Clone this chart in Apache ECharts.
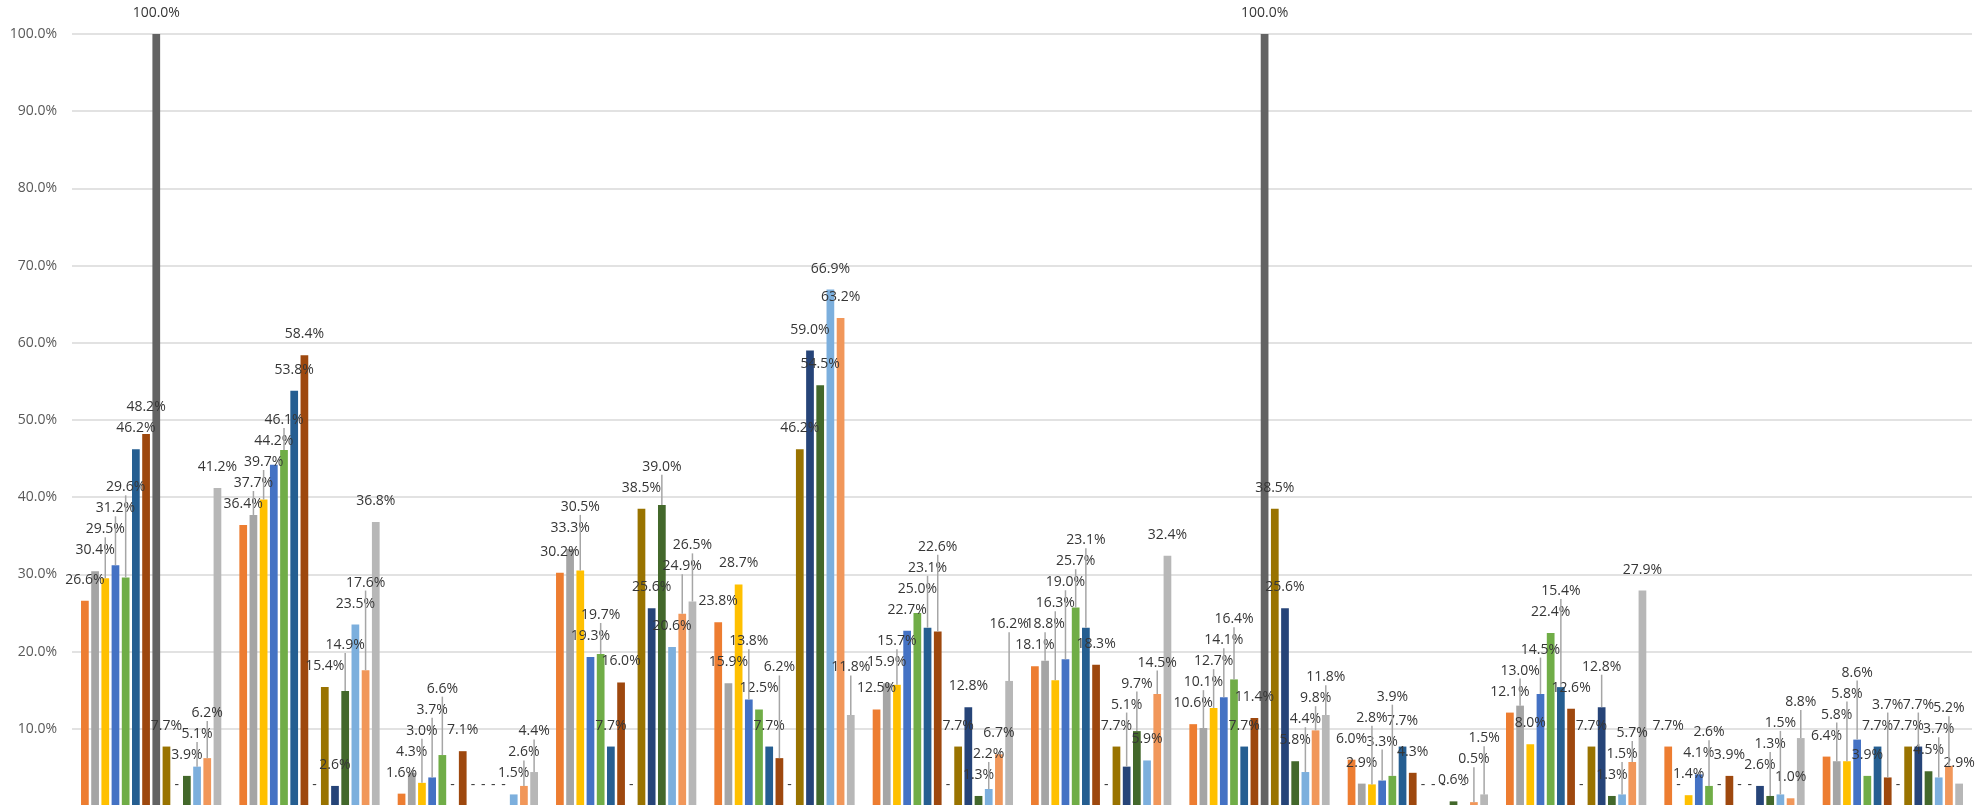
<!DOCTYPE html>
<html>
<head>
<meta charset="utf-8">
<title>Clustered columns</title>
<script src="https://cdn.jsdelivr.net/npm/echarts@6.0.0/dist/echarts.min.js"></script>
<style>
  html, body { margin: 0; padding: 0; background: #ffffff; }
  #chart { width: 1981px; height: 805px; }
</style>
</head>
<body>
<div id="chart"></div>
<script>
// Twelve categories, fourteen series (values in percent)
const categories = ['G1', 'G2', 'G3', 'G4', 'G5', 'G6', 'G7', 'G8', 'G9', 'G10', 'G11', 'G12'];
const seriesNames = ['S1', 'S2', 'S3', 'S4', 'S5', 'S6', 'S7', 'S8', 'S9', 'S10', 'S11', 'S12', 'S13', 'S14'];

const s1  = [26.6, 36.4, 1.6, 30.2, 23.8, 12.5, 18.1, 10.6, 6.0, 12.1, 7.7, 6.4];
const s2  = [30.4, 37.7, 4.3, 33.3, 15.9, 15.9, 18.8, 10.1, 2.9, 13.0, 0, 5.8];
const s3  = [29.5, 39.7, 3.0, 30.5, 28.7, 15.7, 16.3, 12.7, 2.8, 8.0, 1.4, 5.8];
const s4  = [31.2, 44.2, 3.7, 19.3, 13.8, 22.7, 19.0, 14.1, 3.3, 14.5, 4.1, 8.6];
const s5  = [29.6, 46.1, 6.6, 19.7, 12.5, 25.0, 25.7, 16.4, 3.9, 22.4, 2.6, 3.9];
const s6  = [46.2, 53.8, 0, 7.7, 7.7, 23.1, 23.1, 7.7, 7.7, 15.4, 0, 7.7];
const s7  = [48.2, 58.4, 7.1, 16.0, 6.2, 22.6, 18.3, 11.4, 4.3, 12.6, 3.9, 3.7];
const s8  = [100, 0, 0, 0, 0, 0, 0, 100, 0, 0, 0, 0];
const s9  = [7.7, 15.4, 0, 38.5, 46.2, 7.7, 7.7, 38.5, 0, 7.7, 0, 7.7];
const s10 = [0, 2.6, 0, 25.6, 59.0, 12.8, 5.1, 25.6, 0, 12.8, 2.6, 7.7];
const s11 = [3.9, 14.9, 0, 39.0, 54.5, 1.3, 9.7, 5.8, 0.6, 1.3, 1.3, 4.5];
const s12 = [5.1, 23.5, 1.5, 20.6, 66.9, 2.2, 5.9, 4.4, 0, 1.5, 1.5, 3.7];
const s13 = [6.2, 17.6, 2.6, 24.9, 63.2, 6.7, 14.5, 9.8, 0.5, 5.7, 1.0, 5.2];
const s14 = [41.2, 36.8, 4.4, 26.5, 11.8, 16.2, 32.4, 11.8, 1.5, 27.9, 8.8, 2.9];

const seriesValues = [s1, s2, s3, s4, s5, s6, s7, s8, s9, s10, s11, s12, s13, s14];

const palette = ['#ED7D31', '#A5A5A5', '#FFC000', '#4472C4', '#70AD47', '#255E91', '#9E480E',
                 '#636363', '#997300', '#264478', '#43682B', '#7CAFDD', '#F1975A', '#B7B7B7'];

const FONT = '"Open Sans", "Liberation Sans", Arial, sans-serif';
const LABEL_DIST = 13;   // gap between a column top and its label box
const LABEL_GAP = 5;     // vertical breathing room between stacked labels

// Each label starts just above its column; if it collides with a label that
// is already placed it is lifted above that one. Lifted labels get a leader
// line down to the column top. Positions are derived from the column
// rectangle only, so every layout pass gives the same result.
let placed = [];
let leaders = [];
function arrangeLabel(p) {
  if (p.seriesIndex === 0 && p.dataIndex === 0) { placed = []; leaders = []; }
  if (p.text === '-') return {};
  const w = p.labelRect.width, h = p.labelRect.height;
  const cx = p.rect.x + p.rect.width / 2;
  const natural = p.rect.y - LABEL_DIST - h;
  const left = cx - w / 2 + 2, right = cx + w / 2 - 2;
  let top = natural;
  let again = true;
  while (again) {
    again = false;
    for (const q of placed) {
      if (left < q.right && right > q.left && top < q.bottom + LABEL_GAP && top + h + LABEL_GAP > q.top) {
        top = q.top - h - LABEL_GAP;
        again = true;
      }
    }
  }
  placed.push({ left, right, top, bottom: top + h });
  if (natural - top > 6) {
    leaders.push([cx, top + h, cx, p.rect.y]);
  }
  return { x: cx, y: top + h / 2, align: 'center', verticalAlign: 'middle' };
}

const series = seriesValues.map((vals, i) => ({
  name: seriesNames[i],
  type: 'bar',
  data: vals,
  barGap: '32%',
  barCategoryGap: '11.4%',
  itemStyle: { color: palette[i] },
  label: {
    show: true,
    position: 'top',
    distance: LABEL_DIST,
    color: '#363636',
    fontSize: 14,
    lineHeight: 16,
    fontFamily: FONT,
    formatter: (d) => d.value === 0 ? '-' : d.value.toFixed(1) + '%'
  },
  labelLayout: arrangeLabel
}));

const chart = echarts.init(document.getElementById('chart'));
chart.setOption({
  animation: false,
  backgroundColor: '#ffffff',
  grid: { left: 72, right: 9, top: 34, height: 772, containLabel: false, outerBoundsMode: 'none' },
  xAxis: {
    type: 'category',
    data: categories,
    axisLine: { show: false },
    axisTick: { show: false },
    axisLabel: { show: false }
  },
  yAxis: {
    type: 'value',
    min: 0,
    max: 100,
    interval: 10,
    axisLine: { show: false },
    axisTick: { show: false },
    splitLine: { lineStyle: { color: '#D9D9D9', width: 1.5 } },
    axisLabel: {
      showMinLabel: false,
      margin: 15,
      color: '#595959',
      fontSize: 14,
      fontFamily: FONT,
      formatter: (v) => v.toFixed(1) + '%'
    }
  },
  series: series
});

function drawLeaders() {
  const lines = leaders.slice();
  chart.setOption({
    graphic: {
      elements: lines.map((l) => ({
        type: 'line',
        silent: true,
        z: 3,
        shape: { x1: l[0], y1: l[1], x2: l[2], y2: l[3] },
        style: { stroke: '#A6A6A6', lineWidth: 1.5 }
      }))
    }
  });
}

let leadersDone = false;
if (leaders.length) { leadersDone = true; drawLeaders(); }
chart.on('finished', () => {
  if (leadersDone) return;
  leadersDone = true;
  drawLeaders();
});
</script>
</body>
</html>
